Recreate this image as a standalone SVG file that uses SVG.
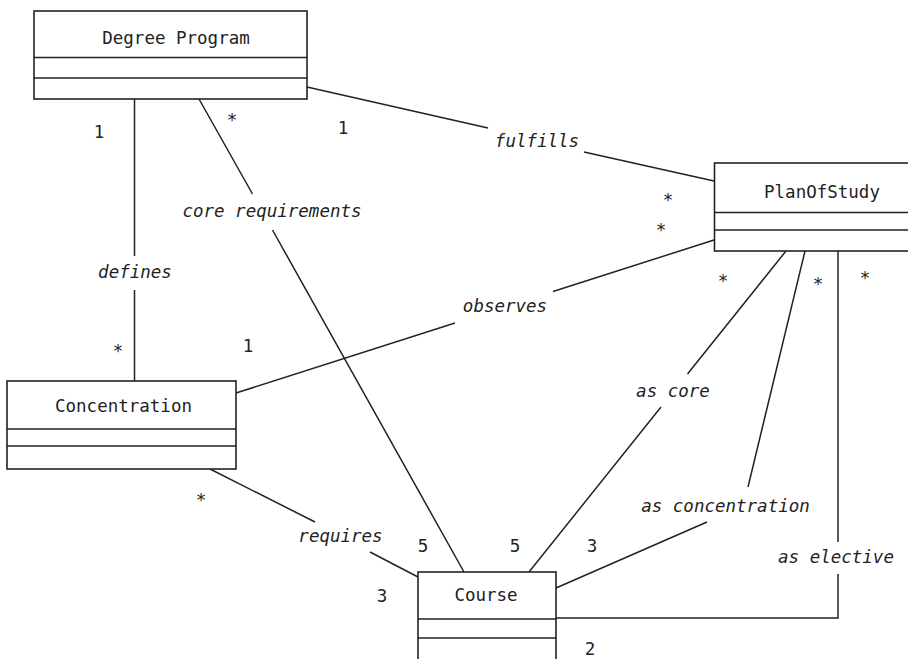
<svg xmlns="http://www.w3.org/2000/svg" width="908" height="659" viewBox="0 0 908 659">
<style>
.box{fill:#fff;stroke:#222;stroke-width:1.6}
.ln{fill:none;stroke:#222;stroke-width:1.5}
text{font-family:"DejaVu Sans Mono","Liberation Mono",monospace;font-size:17.5px;fill:#222}
.nm{text-anchor:middle}
.as{font-style:italic;text-anchor:middle}
.m{text-anchor:middle}
</style>
<rect width="908" height="659" fill="#fff"/>
<g id="connectors">
<path class="ln" d="M307,87 L488,128 M584,152 L714,181"/>
<path class="ln" d="M134.5,99 L134.5,256 M134.5,290 L134.5,381"/>
<path class="ln" d="M199,99 L252.5,194 M272.5,230 L464,572"/>
<path class="ln" d="M236,393 L455,323 M553,291.5 L714,240"/>
<path class="ln" d="M210,469 L315,522 M370,552 L418,577"/>
<path class="ln" d="M786,251 L687.5,374 M661,407 L529,572"/>
<path class="ln" d="M805,251 L748,487 M707,522 L556,588"/>
<path class="ln" d="M838,251 L838,542 M838,574 L838,618 L556,618"/>
</g>
<g id="degree-program">
<rect class="box" x="34" y="11" width="273" height="88"/>
<path class="ln" d="M34,57.5 H307 M34,78 H307"/>
<text class="nm" x="176" y="44">Degree Program</text>
</g>
<g id="plan-of-study">
<rect class="box" x="714.5" y="163" width="210" height="88"/>
<path class="ln" d="M714.5,212.5 H908 M714.5,230 H908"/>
<text class="nm" x="822" y="198">PlanOfStudy</text>
</g>
<g id="concentration">
<rect class="box" x="7" y="381" width="229" height="88"/>
<path class="ln" d="M7,429 H236 M7,446 H236"/>
<text class="nm" x="123.5" y="412">Concentration</text>
</g>
<g id="course">
<rect class="box" x="418" y="572" width="138" height="110"/>
<path class="ln" d="M418,619 H556 M418,638 H556"/>
<text class="nm" x="486" y="601">Course</text>
</g>
<g id="labels">
<text class="as" x="537" y="147">fulfills</text>
<text class="as" x="272" y="217">core requirements</text>
<text class="as" x="135" y="278">defines</text>
<text class="as" x="505" y="312">observes</text>
<text class="as" x="673" y="397">as core</text>
<text class="as" x="725.5" y="512">as concentration</text>
<text class="as" x="836" y="563">as elective</text>
<text class="as" x="340.5" y="542">requires</text>
</g>
<g id="multiplicities">
<text class="m" x="99" y="138">1</text>
<text class="m" x="232" y="126">*</text>
<text class="m" x="343" y="134">1</text>
<text class="m" x="668" y="206">*</text>
<text class="m" x="661" y="236">*</text>
<text class="m" x="118" y="357">*</text>
<text class="m" x="248" y="352">1</text>
<text class="m" x="723" y="287">*</text>
<text class="m" x="818" y="290">*</text>
<text class="m" x="865" y="284">*</text>
<text class="m" x="201" y="506">*</text>
<text class="m" x="423" y="552">5</text>
<text class="m" x="515" y="552">5</text>
<text class="m" x="592" y="552">3</text>
<text class="m" x="382" y="602">3</text>
<text class="m" x="590" y="655">2</text>
</g>
</svg>
